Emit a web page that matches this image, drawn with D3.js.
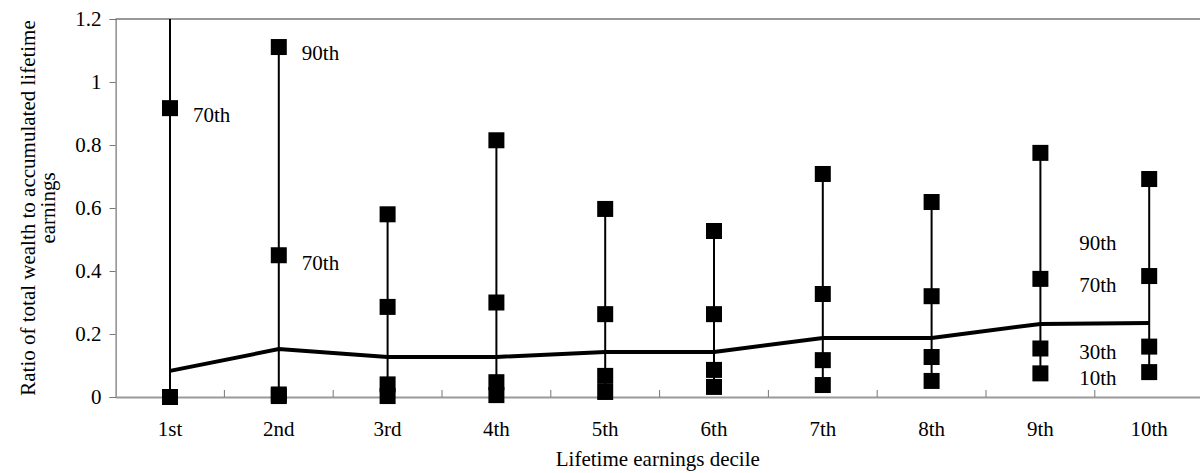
<!doctype html>
<html>
<head>
<meta charset="utf-8" />
<script src="https://cdn.jsdelivr.net/npm/d3@7"></script>
<style>
 body { margin: 0; background: #fff; }
</style>
</head>
<body>
<script>
 // percentiles of wealth / lifetime earnings by decile
 var deciles = ["1st","2nd","3rd","4th","5th","6th","7th","8th","9th","10th"];
 var p10    = [0, 0.003, 0.003, 0.006, 0.016, 0.032, 0.038, 0.051, 0.075, 0.079];
 var p30    = [0, 0.008, 0.040, 0.047, 0.067, 0.086, 0.117, 0.127, 0.154, 0.160];
 var median = [0.083, 0.152, 0.127, 0.127, 0.143, 0.143, 0.187, 0.187, 0.232, 0.235];
 var p70    = [0.917, 0.450, 0.286, 0.300, 0.263, 0.263, 0.327, 0.320, 0.375, 0.384];
 var p90    = [1.5, 1.111, 0.580, 0.815, 0.597, 0.527, 0.708, 0.619, 0.775, 0.692];
 var yTicks = [0, 0.2, 0.4, 0.6, 0.8, 1, 1.2];

 // annotation labels: decile, value at label, text
 var noteDecile = ["1st", "2nd", "2nd", "10th", "10th", "10th", "10th"];
 var noteValue  = [0.895, 1.092, 0.425, 0.489, 0.356, 0.143, 0.060];
 var noteText   = ["70th", "90th", "70th", "90th", "70th", "30th", "10th"];

 var w = 1200, h = 473;
 var pLeft = 115.6, pRight = 1203.6, pTop = 19, pBottom = 397;
 var serif = "'Liberation Serif', 'DejaVu Serif', serif";
 var fs = "21px";

 var svg = d3.select("body").append("svg")
   .attr("width", w).attr("height", h)
   .style("font-family", serif);

 var x = d3.scaleBand().domain(deciles).range([pLeft, pRight]);
 var y = d3.scaleLinear().domain([0, 1.2]).range([pBottom, pTop]);
 var cx = function(d){ return x(d) + x.bandwidth()/2; };

 svg.append("clipPath").attr("id", "plot")
   .append("rect").attr("x", pLeft).attr("y", pTop)
   .attr("width", pRight - pLeft).attr("height", pBottom - pTop);

 // top border
 svg.append("line")
   .attr("x1", pLeft).attr("x2", pRight)
   .attr("y1", pTop).attr("y2", pTop)
   .attr("stroke", "#999").attr("stroke-width", 2);

 // y axis
 var yAxis = svg.append("g")
   .attr("transform", "translate(" + pLeft + ",0)")
   .call(d3.axisLeft(y).tickValues(yTicks).tickSize(6).tickPadding(8)
	 .tickFormat(function(d){ return d3.format("")(d); }));
 yAxis.attr("font-family", null);
 yAxis.select(".domain").attr("stroke", "#555");
 yAxis.selectAll(".tick line").attr("stroke", "#777");
 yAxis.selectAll("text").attr("font-size", fs)
   .style("font-family", serif).attr("fill", "#000");

 // x axis
 var xAxis = svg.append("g")
   .attr("transform", "translate(0," + pBottom + ")")
   .call(d3.axisBottom(x).tickSize(0).tickPadding(24));
 xAxis.attr("font-family", null);
 xAxis.select(".domain").attr("stroke", "#999").attr("stroke-width", 2);
 xAxis.selectAll("text").attr("font-size", fs)
   .style("font-family", serif).attr("fill", "#000");

 // small inward ticks at band boundaries
 svg.selectAll(".xb")
   .data(deciles.slice(1))
   .enter().append("line")
   .attr("x1", function(d){ return x(d); })
   .attr("x2", function(d){ return x(d); })
   .attr("y1", pBottom - 7).attr("y2", pBottom)
   .attr("stroke", "#777").attr("stroke-width", 1);

 var plot = svg.append("g").attr("clip-path", "url(#plot)");

 // range lines 10th-90th
 plot.selectAll(".range")
   .data(deciles)
   .enter().append("line")
   .attr("x1", cx).attr("x2", cx)
   .attr("y1", function(d, i){ return y(p10[i]); })
   .attr("y2", function(d, i){ return y(p90[i]); })
   .attr("stroke", "#000").attr("stroke-width", 2);

 // median line
 var line = d3.line()
   .x(function(d, i){ return cx(deciles[i]); })
   .y(function(d){ return y(d); });
 plot.append("path")
   .datum(median)
   .attr("d", line)
   .attr("fill", "none")
   .attr("stroke", "#000")
   .attr("stroke-width", 4);

 // square markers (only those inside the value range)
 var sq = 16;
 var marks = svg.append("g");
 [p10, p30, p70, p90].forEach(function(series){
   var pts = series.map(function(d, i){ return {v: d, cat: deciles[i]}; })
     .filter(function(p){ return p.v <= 1.2; });
   marks.selectAll(null)
     .data(pts)
     .enter().append("rect")
     .attr("x", function(p){ return cx(p.cat) - sq/2; })
     .attr("y", function(p){ return y(p.v) - sq/2; })
     .attr("width", sq).attr("height", sq)
     .attr("fill", "#000");
 });

 // percentile labels
 svg.selectAll(".note")
   .data(noteText)
   .enter().append("text")
   .attr("x", function(d, i){
     return noteDecile[i] === "10th" ? cx(noteDecile[i]) - 70 : cx(noteDecile[i]) + 23;
   })
   .attr("y", function(d, i){ return y(noteValue[i]); })
   .attr("dy", "0.35em")
   .attr("font-size", fs)
   .text(function(d){ return d; });

 // axis titles
 svg.append("text")
   .attr("x", (pLeft + w) / 2).attr("y", 466)
   .attr("text-anchor", "middle")
   .attr("font-size", fs)
   .text("Lifetime earnings decile");

 var yt = svg.append("text")
   .attr("transform", "translate(35," + ((pTop + pBottom) / 2) + ") rotate(-90)")
   .attr("text-anchor", "middle")
   .attr("font-size", fs);
 yt.append("tspan").attr("x", 0).attr("y", 0).text("Ratio of total wealth to accumulated lifetime");
 yt.append("tspan").attr("x", 0).attr("y", 20).text("earnings");
</script>
</body>
</html>
